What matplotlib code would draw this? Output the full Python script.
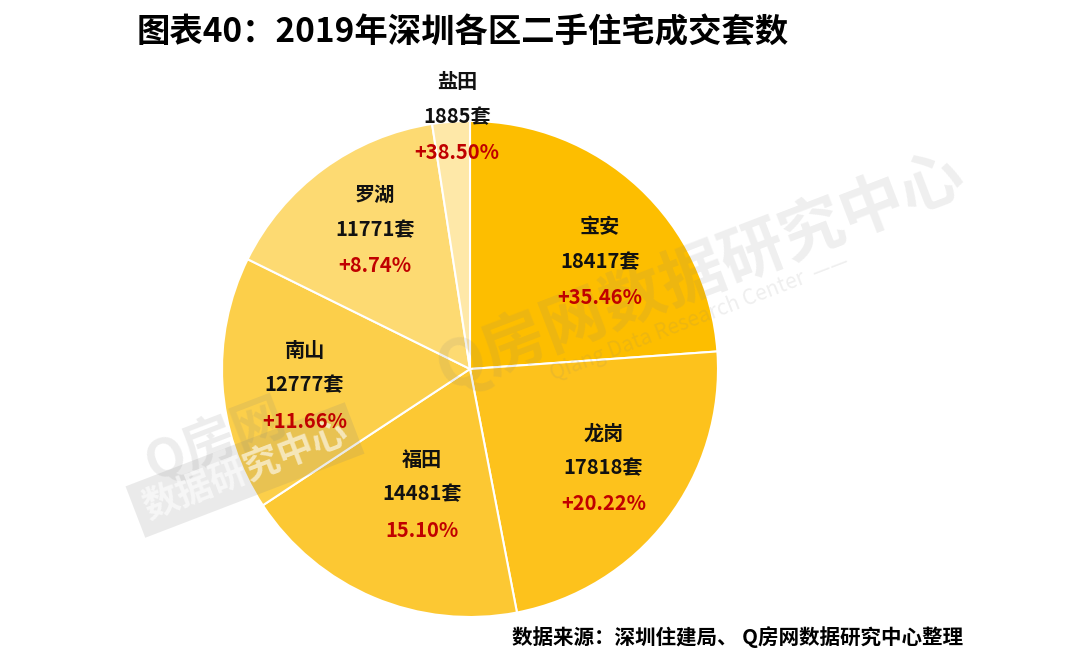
import numpy as np
import matplotlib
matplotlib.use('Agg')
import matplotlib.pyplot as plt

plt.rcParams['font.family'] = ['Noto Sans CJK SC', 'DejaVu Sans']

districts = ['宝安', '龙岗', '福田', '南山', '罗湖', '盐田']
deals = [18417, 17818, 14481, 12777, 11771, 1885]
growth = ['+35.46%', '+20.22%', '15.10%', '+11.66%', '+8.74%', '+38.50%']
colors = ['#FDBE00', '#FDC21C', '#FCC833', '#FCCF4A', '#FDDA72', '#FEE8A8']
# label placement: fraction of radius and angle nudge (deg) from wedge middle
label_r = [0.68, 0.67, 0.54, 0.67, 0.68, 1.02]
label_da = [-7.5, 1.0, 2.0, 2.0, -2.0, -1.5]

W, H = 1080, 663
cx, cy, R = 470, H - 369, 248

fig = plt.figure(figsize=(W / 100, H / 100), dpi=100)
ax = fig.add_axes([0, 0, 1, 1])

wedges, _ = ax.pie(deals, colors=colors, startangle=90, counterclock=False,
                   radius=R, center=(cx, cy),
                   wedgeprops=dict(edgecolor='white', linewidth=1.5))
ax.set_xlim(0, W)
ax.set_ylim(0, H)
ax.set_aspect('equal')
ax.axis('off')

# watermarks (positions given in pixels from top)
ax.text(700, H - 272, 'Q房网数据研究中心', rotation=21, fontsize=46, fontweight='bold',
        color='#808080', alpha=0.13, ha='center', va='center', zorder=3)
ax.text(700, H - 318, 'Qiang Data Research Center  ——', rotation=21, fontsize=15,
        color='#808080', alpha=0.13, ha='center', va='center', zorder=3)
ax.text(215, H - 440, 'Q房网', rotation=21, fontsize=38, fontweight='bold',
        color='#808080', alpha=0.14, ha='center', va='center', zorder=3)
ax.text(245, H - 470, '数据研究中心', rotation=21, fontsize=26, fontweight='bold',
        color='white', alpha=0.6, ha='center', va='center', zorder=3,
        bbox=dict(boxstyle='square,pad=0.25', fc='#808080', ec='none', alpha=0.16))

# labels
for w, name, n, g, rf, da in zip(wedges, districts, deals, growth, label_r, label_da):
    ang = np.deg2rad((w.theta1 + w.theta2) / 2 + da)
    x = cx + rf * R * np.cos(ang)
    y = cy + rf * R * np.sin(ang)
    ax.text(x, y + 35, name, ha='center', va='center', fontsize=14.5,
            fontweight='bold', color='#111111', zorder=4)
    ax.text(x, y, f'{n}套', ha='center', va='center', fontsize=14.5,
            fontweight='bold', color='#111111', zorder=4)
    ax.text(x, y - 36, g, ha='center', va='center', fontsize=14.5,
            fontweight='bold', color='#C00000', zorder=4)

fig.text(137 / W, 1 - 33 / H, '图表40：2019年深圳各区二手住宅成交套数',
         ha='left', va='center', fontsize=24, fontweight='bold', color='black')
fig.text(512 / W, 1 - 637 / H, '数据来源：深圳住建局、 Q房网数据研究中心整理',
         ha='left', va='center', fontsize=14.8, fontweight='bold', color='black')

fig.savefig('out.png', dpi=100)
